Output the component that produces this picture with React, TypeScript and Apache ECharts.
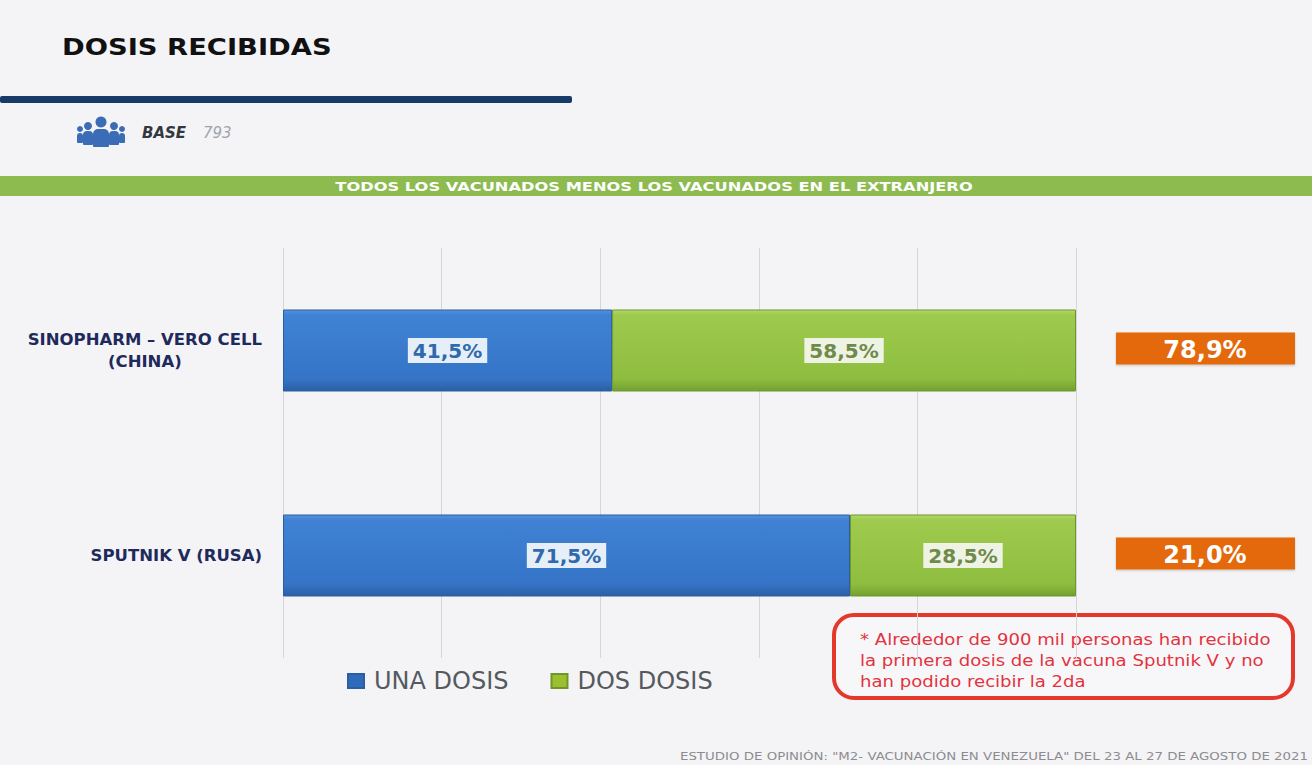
import React, { useEffect, useRef } from "react";
import * as echarts from "echarts";

const categories = ["SINOPHARM – VERO CELL\n(CHINA)", "SPUTNIK V (RUSA)"];
const unaDosis = [41.5, 71.5];
const dosDosis = [58.5, 28.5];
const shareOfVaccinated = [78.9, 21.0];
const seriesNames = ["UNA DOSIS", "DOS DOSIS"];
const titleText = "DOSIS RECIBIDAS";
const baseLabel = "BASE";
const baseValue = "793";
const bannerText = "TODOS LOS VACUNADOS MENOS LOS VACUNADOS EN EL EXTRANJERO";
const noteLines = [
  "* Alrededor de 900 mil personas han recibido",
  "la primera dosis de la vacuna Sputnik V y no",
  "han podido recibir la 2da",
];
const footerText = 'ESTUDIO DE OPINIÓN: "M2- VACUNACIÓN EN VENEZUELA" DEL 23 AL 27 DE AGOSTO DE 2021';

const fmt = (v: number) => v.toFixed(1).replace(".", ",") + "%";
const FONT = '"DejaVu Sans", "Open Sans", sans-serif';

export default function App() {
  const ref = useRef<HTMLDivElement>(null);
  useEffect(() => {
    document.body.style.margin = "0";
    const chart = echarts.init(ref.current!, null, { renderer: "svg" });
    const blueGrad = new echarts.graphic.LinearGradient(0, 0, 0, 1, [
      { offset: 0, color: "#5592dc" },
      { offset: 0.06, color: "#3f82d4" },
      { offset: 0.85, color: "#3574c6" },
      { offset: 1, color: "#2b5fa6" },
    ]);
    const greenGrad = new echarts.graphic.LinearGradient(0, 0, 0, 1, [
      { offset: 0, color: "#b3d96a" },
      { offset: 0.06, color: "#9ecb4e" },
      { offset: 0.85, color: "#8fbd40" },
      { offset: 1, color: "#72a02e" },
    ]);
    const option: any = {
      animation: false,
      backgroundColor: "#f4f4f6",
      textStyle: { fontFamily: FONT },
      grid: { left: 283, right: 236, top: 248, bottom: 107 },
      legend: {
        data: seriesNames.map((n, i) => ({
          name: n,
          itemStyle: { color: i === 0 ? "#2f6bbd" : "#9bbf2e" },
        })),
        left: 342,
        top: 664,
        icon: "rect",
        itemWidth: 16,
        itemHeight: 14,
        itemGap: 42,
        textStyle: { fontSize: 24, color: "#555a60", fontFamily: FONT, padding: [0, 0, 0, 5] },
        selectedMode: false,
      },
      xAxis: {
        type: "value",
        min: 0,
        max: 100,
        interval: 20,
        axisLabel: { show: false },
        axisLine: { show: false },
        axisTick: { show: false },
        splitLine: { lineStyle: { color: "#d6d6da", width: 1 } },
      },
      yAxis: {
        type: "category",
        data: categories,
        inverse: true,
        axisLine: { show: false },
        axisTick: { show: false },
        axisLabel: {
          margin: 21,
          fontSize: 16.5,
          fontWeight: "bold",
          color: "#1f2a5c",
          fontFamily: FONT,
          lineHeight: 22,
          formatter: (v: string) => v.split("\n").map((l) => `{c|${l}}`).join("\n"),
          rich: {
            c: { align: "center", fontSize: 16.5, fontWeight: "bold", color: "#1f2a5c", fontFamily: FONT, lineHeight: 22 },
          },
        },
      },
      series: [
        {
          name: seriesNames[0],
          type: "bar",
          stack: "total",
          barWidth: "40%",
          data: unaDosis,
          itemStyle: { color: blueGrad, borderColor: "#2c5e9e", borderWidth: 1 },
          label: {
            show: true,
            position: "inside",
            formatter: (p: any) => fmt(p.value),
            color: "#2e6aad",
            fontSize: 20,
            fontWeight: "bold",
            fontFamily: FONT,
            backgroundColor: "#e6eef7",
            padding: [3, 5, 2, 5],
          },
        },
        {
          name: seriesNames[1],
          type: "bar",
          stack: "total",
          barWidth: "40%",
          data: dosDosis,
          itemStyle: { color: greenGrad, borderColor: "#6f962d", borderWidth: 1 },
          label: {
            show: true,
            position: "inside",
            formatter: (p: any) => fmt(p.value),
            color: "#6f8a4a",
            fontSize: 20,
            fontWeight: "bold",
            fontFamily: FONT,
            backgroundColor: "#eef3e4",
            padding: [3, 5, 2, 5],
          },
        },
        {
          name: "share",
          type: "custom",
          clip: false,
          data: shareOfVaccinated.map((v, i) => [0, i, v]),
          encode: { x: 0, y: 1 },
          renderItem: (params: any, api: any) => {
            const pt = api.coord([0, api.value(1)]);
            const cs = params.coordSys;
            const x = cs.x + cs.width + 40;
            return {
              type: "group",
              children: [
                {
                  type: "rect",
                  shape: { x, y: pt[1] - 18, width: 179, height: 32 },
                  style: { fill: "#e4690c", shadowBlur: 2, shadowColor: "rgba(0,0,0,0.2)", shadowOffsetY: 1 },
                },
                {
                  type: "text",
                  style: {
                    text: fmt(api.value(2)),
                    x: x + 89,
                    y: pt[1] - 1,
                    align: "center",
                    verticalAlign: "middle",
                    fill: "#ffffff",
                    font: `bold 24px ${FONT}`,
                  },
                },
              ],
            };
          },
        },
      ],
      graphic: [
        {
          type: "text",
          x: 62,
          y: 47,
          scaleX: 1.19,
          style: {
            text: titleText,
            font: `bold 23px "DejaVu Sans", sans-serif`,
            fill: "#111111",
            align: "left",
            verticalAlign: "middle",
          },
        },
        { type: "rect", shape: { x: 0, y: 96, width: 572, height: 7, r: 2 }, style: { fill: "#173a66" } },
        // people icon
        { type: "circle", shape: { cx: 101, cy: 122, r: 5.5 }, style: { fill: "#3a6db5" } },
        { type: "rect", shape: { x: 93, y: 129, width: 16, height: 18, r: [5, 5, 1, 1] }, style: { fill: "#3a6db5" } },
        { type: "circle", shape: { cx: 88, cy: 126, r: 4 }, style: { fill: "#3a6db5" } },
        { type: "rect", shape: { x: 83, y: 131, width: 10, height: 14, r: [4, 4, 1, 1] }, style: { fill: "#3a6db5" } },
        { type: "circle", shape: { cx: 114, cy: 126, r: 4 }, style: { fill: "#3a6db5" } },
        { type: "rect", shape: { x: 109, y: 131, width: 10, height: 14, r: [4, 4, 1, 1] }, style: { fill: "#3a6db5" } },
        { type: "circle", shape: { cx: 80, cy: 129, r: 3 }, style: { fill: "#3a6db5" } },
        { type: "rect", shape: { x: 77, y: 133, width: 6, height: 10, r: [3, 3, 1, 1] }, style: { fill: "#3a6db5" } },
        { type: "circle", shape: { cx: 122, cy: 129, r: 3 }, style: { fill: "#3a6db5" } },
        { type: "rect", shape: { x: 119, y: 133, width: 6, height: 10, r: [3, 3, 1, 1] }, style: { fill: "#3a6db5" } },
        {
          type: "text",
          x: 142,
          y: 133,
          style: { text: baseLabel, font: `italic bold 15px ${FONT}`, fill: "#333840", verticalAlign: "middle" },
        },
        {
          type: "text",
          x: 203,
          y: 133,
          style: { text: baseValue, font: `italic 15px ${FONT}`, fill: "#a0a4aa", verticalAlign: "middle" },
        },
        // banner
        { type: "rect", shape: { x: 0, y: 176, width: 1312, height: 20 }, style: { fill: "#8dbb50" } },
        {
          type: "text",
          x: 654,
          y: 186,
          scaleX: 1.25,
          style: {
            text: bannerText,
            font: `bold 13px ${FONT}`,
            fill: "#ffffff",
            align: "center",
            verticalAlign: "middle",
          },
        },
        // annotation
        {
          type: "rect",
          shape: { x: 834, y: 615, width: 459, height: 83, r: 20 },
          style: { fill: "rgba(255,255,255,0.3)", stroke: "#e4382b", lineWidth: 4 },
        },
        {
          type: "text",
          x: 860,
          y: 629,
          scaleX: 1.13,
          style: {
            text: noteLines.join("\n"),
            font: `16px ${FONT}`,
            lineHeight: 21,
            fill: "#e2333e",
          },
        },
        {
          type: "text",
          x: 1308,
          y: 757,
          scaleX: 1.335,
          style: {
            text: footerText,
            font: `10px ${FONT}`,
            fill: "#8c8c90",
            align: "right",
            verticalAlign: "middle",
          },
        },
      ],
    };
    chart.setOption(option);
    return () => chart.dispose();
  }, []);
  return <div ref={ref} style={{ width: 1312, height: 765 }} />;
}
